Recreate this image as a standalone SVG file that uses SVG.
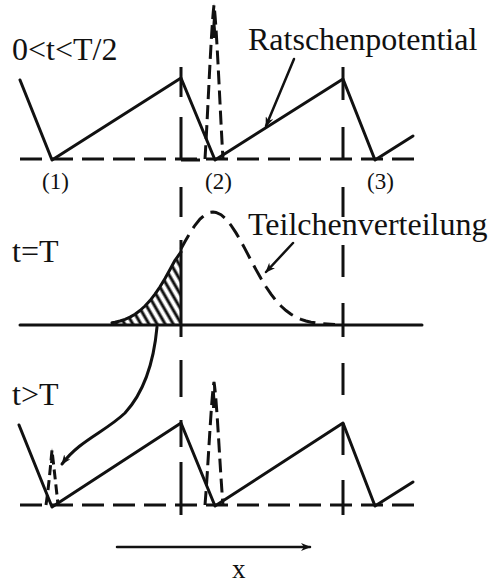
<svg xmlns="http://www.w3.org/2000/svg" width="491" height="585" viewBox="0 0 491 585">
<style>
.txt{font-family:"Liberation Serif","Times New Roman",serif;fill:#111}
.big{font-size:32px}
.lab{font-size:23px}
.solid{fill:none;stroke:#111;stroke-width:3;stroke-linejoin:round;stroke-linecap:round}
.dash{fill:none;stroke:#111;stroke-width:3;stroke-dasharray:22 9}
.vd{fill:none;stroke:#111;stroke-width:3}
.spike{fill:none;stroke:#111;stroke-width:3;stroke-dasharray:14 6}
.thin{fill:none;stroke:#111;stroke-width:2.5;stroke-linecap:round}
</style>
<defs>
<marker id="arr" viewBox="0 0 10 8" refX="9" refY="4" markerWidth="10" markerHeight="8" markerUnits="userSpaceOnUse" orient="auto">
<path d="M0,0 L10,4 L0,8 L3,4 Z" fill="#111"/>
</marker>
<pattern id="hatch" width="7" height="10" patternUnits="userSpaceOnUse" patternTransform="rotate(-30)">
<line x1="2" y1="0" x2="2" y2="10" stroke="#111" stroke-width="3"/>
</pattern>
<clipPath id="hclip">
<polygon points="112,322.7 115,322.2 120,321 125,319.3 130,317.1 135,314.2 140,310.5 145,306 150,300.6 155,294.1 160,286.8 165,278.6 170,269.6 175,260.3 181,252 181,325 112,325"/>
</clipPath>
</defs>

<g id="labels">
<text class="txt big" x="12" y="60">0&lt;t&lt;T/2</text>
<text class="txt big" x="248" y="50">Ratschenpotential</text>
<text class="txt lab" x="42" y="189">(1)</text>
<text class="txt lab" x="205" y="189">(2)</text>
<text class="txt lab" x="367" y="189">(3)</text>
<text class="txt big" x="12" y="262">t=T</text>
<text class="txt big" x="248" y="235">Teilchenverteilung</text>
<text class="txt big" x="12" y="405">t&gt;T</text>
<text class="txt" x="232" y="578" style="font-size:27px">x</text>
</g>

<g id="axes">
<line class="dash" x1="20" y1="159" x2="422" y2="159"/>
<line class="solid" x1="20" y1="325" x2="422" y2="325"/>
<line class="dash" x1="20" y1="505" x2="420" y2="505"/>
<path class="vd" d="M181,67V97 M181,117V160 M181,160H200 M181,187V217 M181,240V337 M181,360V397 M181,420V447 M181,462V515"/>
<path class="vd" d="M343,67V100 M343,127V160 M343,187V217 M343,245V277 M343,303V337 M343,363V395 M343,423V455 M343,480V515"/>
</g>

<g id="potential-top">
<polyline class="solid" points="20,80 52,160 181,78 215,160 343,79 375,160 413,136"/>
<path class="spike" d="M205,159 C208,110 211,30 214,5 C217,30 220,110 223,159"/>
<polygon points="211.5,38 214,3 216.5,38" fill="#111"/>
</g>

<g id="distribution">
<rect x="100" y="240" width="85" height="90" fill="url(#hatch)" clip-path="url(#hclip)"/>
<polyline class="solid" points="112,322.7 115,322.2 120,321 125,319.3 130,317.1 135,314.2 140,310.5 145,306 150,300.6 155,294.1 160,286.8 165,278.6 170,269.6 175,260.3 181,252"/>
<polyline class="spike" style="stroke-dasharray:16 8" points="181,248.9 185,241.5 190,232.9 195,225.3 200,219.1 205,214.7 210,212.4 213,212 216,212.4 221,214.7 226,219.1 231,225.3 236,232.9 241,241.5 245,248.9 251,260.3 256,269.6 261,278.6 266,286.8 271,294.1 276,300.6 281,306 286,310.5 291,314.2 296,317.1 301,319.3 306,321 311,322.2 321,323.7 335,324.6"/>
</g>

<g id="potential-bottom">
<polyline class="solid" points="19,425 52,507 181,423 215,506 343,423 375,506 413,482"/>
<path class="spike" d="M205,505 C208,470 211,400 214,382 C217,400 220,470 223,505"/>
<polygon points="212,408 214,380 216,408" fill="#111"/>
<path class="spike" style="stroke-dasharray:10 5" d="M46,505 C49,485 51,460 52,450 C53,460 56,485 58,505"/>
<polygon points="50,463 52,448 54,463" fill="#111"/>
</g>

<g id="connectors">
<line class="thin" x1="294" y1="59" x2="266" y2="126" marker-end="url(#arr)"/>
<line class="thin" x1="293" y1="243" x2="266" y2="272" marker-end="url(#arr)"/>
<path class="thin" style="stroke-width:3" d="M157,327 C154,360 146,390 125,413 C105,432 80,440 62,464" marker-end="url(#arr)"/>
<line class="thin" x1="117" y1="547" x2="310" y2="547" marker-end="url(#arr)"/>
</g>
</svg>
